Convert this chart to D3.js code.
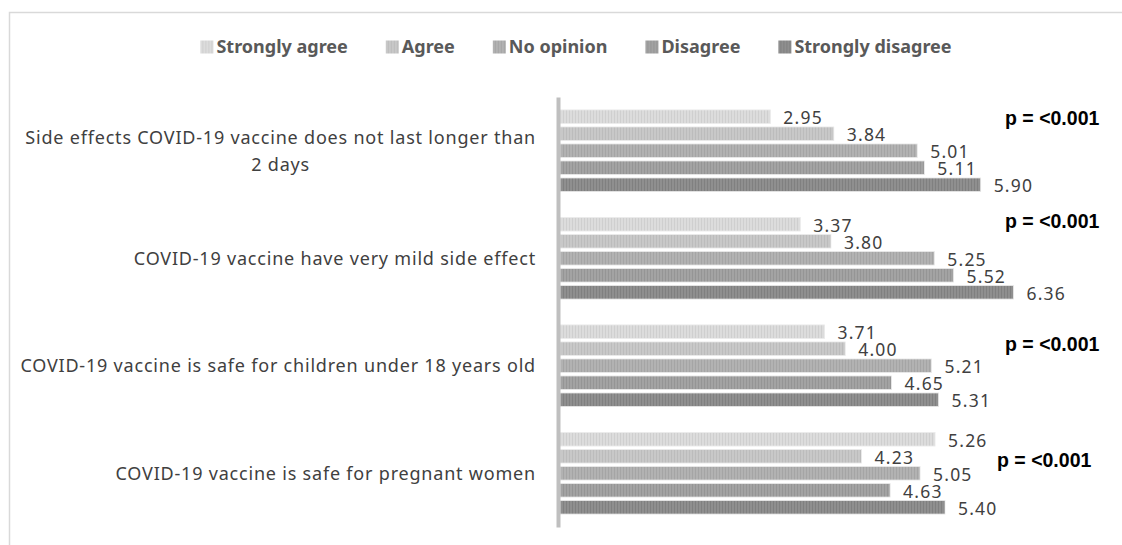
<!DOCTYPE html>
<html>
<head>
<meta charset="utf-8">
<script src="https://cdn.jsdelivr.net/npm/d3@7"></script>
<style>
html,body{margin:0;padding:0;background:#fff;}
svg{display:block;}
</style>
</head>
<body>
<svg id="chart" width="1122" height="545"></svg>
<script>
// ---- data ----
const categories = [
  "Side effects COVID-19 vaccine does not last longer than\n2 days",
  "COVID-19 vaccine have very mild side effect",
  "COVID-19 vaccine is safe for children under 18 years old",
  "COVID-19 vaccine is safe for pregnant women"
];
const seriesNames = ["Strongly agree", "Agree", "No opinion", "Disagree", "Strongly disagree"];
const stronglyAgree    = [2.95, 3.37, 3.71, 5.26];
const agree            = [3.84, 3.80, 4.00, 4.23];
const noOpinion        = [5.01, 5.25, 5.21, 5.05];
const disagree         = [5.11, 5.52, 4.65, 4.63];
const stronglyDisagree = [5.90, 6.36, 5.31, 5.40];
const pValues = ["p = <0.001", "p = <0.001", "p = <0.001", "p = <0.001"];

const seriesValues = [stronglyAgree, agree, noOpinion, disagree, stronglyDisagree];
const colors = ["#dcdcdc", "#c8c8c8", "#b2b2b2", "#a3a3a3", "#8f8f8f"];
const stripe = ["#cfcfcf", "#bcbcbc", "#a5a5a5", "#959595", "#808080"];

const svg = d3.select("#chart");

// frame
svg.append("rect").attr("x", 9.5).attr("y", 12.5).attr("width", 1122).attr("height", 600)
  .attr("fill", "none").attr("stroke", "#d9d9d9").attr("stroke-width", 1.5);

// patterns
const defs = svg.append("defs");
colors.forEach((c, i) => {
  const p = defs.append("pattern").attr("id", "pat" + i).attr("patternUnits", "userSpaceOnUse")
    .attr("width", 3).attr("height", 10);
  p.append("rect").attr("width", 3).attr("height", 10).attr("fill", c);
  p.append("rect").attr("x", 2).attr("width", 1).attr("height", 10).attr("fill", stripe[i]);
});

// scales
const x = d3.scaleLinear().domain([0, 7]).range([560, 560 + 7 * 71.3]);
const y0 = d3.scaleBand().domain(d3.range(categories.length)).range([97, 527]).padding(0);
const y1 = d3.scaleBand().domain(d3.range(seriesNames.length)).range([0, y0.bandwidth()])
  .paddingInner(0.2).paddingOuter(0.76);

// bars
const groups = svg.append("g").selectAll("g").data(categories).join("g")
  .attr("transform", (d, i) => `translate(0,${y0(i)})`);

groups.each(function(cat, ci) {
  const g = d3.select(this);
  seriesValues.forEach((vals, si) => {
    g.append("rect")
      .attr("x", x(0))
      .attr("y", y1(si))
      .attr("width", x(vals[ci]) - x(0))
      .attr("height", y1.bandwidth())
      .attr("fill", `url(#pat${si})`)
      .attr("stroke", "#ebebeb").attr("stroke-width", 0.8);
    g.append("text")
      .attr("x", x(vals[ci]) + 13)
      .attr("y", y1(si) + y1.bandwidth() / 2 + 1.5)
      .attr("dy", "0.35em")
      .attr("font-family", "Noto Sans, sans-serif")
      .attr("font-size", 17.5)
      .attr("letter-spacing", 1.2)
      .attr("fill", "#404040")
      .text(vals[ci].toFixed(2));
  });
});

// axis line
const yAxis = d3.axisLeft(y0).tickSize(0).tickFormat("");
svg.append("g").attr("transform", "translate(558,0)").call(yAxis)
  .call(g => g.select(".domain").attr("stroke", "#bfbfbf").attr("stroke-width", 4));

// category labels
const catG = svg.append("g");
categories.forEach((cat, ci) => {
  const lines = cat.split("\n");
  const lh = 27;
  const t = catG.append("text")
    .attr("font-family", "Noto Sans, sans-serif")
    .attr("font-size", 18)
    .attr("letter-spacing", 0.8)
    .attr("fill", "#404040");
  const cy = y0(ci) + y0.bandwidth() / 2;
  const tspans = lines.map((ln, li) => t.append("tspan").text(ln));
  const widths = tspans.map(ts => ts.node().getComputedTextLength());
  const W = d3.max(widths);
  const cx = 536 - W / 2;
  tspans.forEach((ts, li) => {
    ts.attr("x", cx).attr("text-anchor", "middle")
      .attr("y", cy + (li - (lines.length - 1) / 2) * lh)
      .attr("dy", "0.35em");
  });
});

// p-value annotations (placed next to each group)
const pOffsets = [[1005, 0, 0], [1005, 0, -4], [1005, 1, -6], [997, 2, -14]];
pValues.forEach((pv, ci) => {
  const [px, si, dyy] = pOffsets[ci];
  svg.append("text")
    .attr("x", px)
    .attr("y", y0(ci) + y1(si) + y1.bandwidth() / 2 + dyy + 1)
    .attr("dy", "0.35em")
    .attr("font-family", "Liberation Sans, Arial, sans-serif")
    .attr("font-weight", "bold")
    .attr("font-size", 19.5)
    .attr("fill", "#000")
    .text(pv);
});

// legend
const leg = svg.append("g");
let lx = 0;
const gap = 38;
seriesNames.forEach((name, i) => {
  const it = leg.append("g");
  it.append("rect").attr("x", 0).attr("y", -6.5).attr("width", 13).attr("height", 13)
    .attr("fill", `url(#pat${i})`);
  const tx = it.append("text").attr("x", 16).attr("y", 0).attr("dy", "0.35em")
    .attr("font-family", "Noto Sans, sans-serif").attr("font-weight", "bold")
    .attr("font-size", 18).attr("fill", "#595959").text(name);
  const w = 16 + tx.node().getComputedTextLength();
  it.attr("transform", `translate(${lx},0)`);
  lx += w + gap;
});
const legW = lx - gap;
leg.attr("transform", `translate(${576 - legW / 2},47)`);
</script>
</body>
</html>
